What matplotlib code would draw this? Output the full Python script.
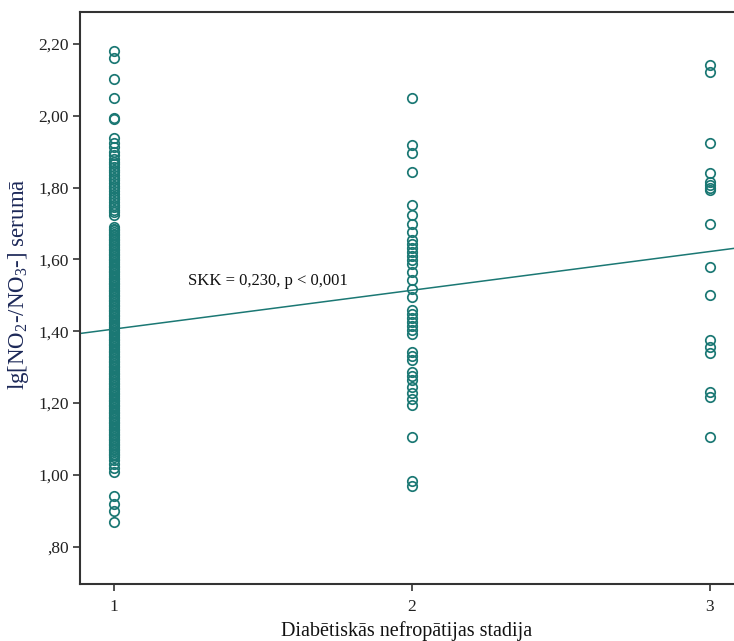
import matplotlib
matplotlib.use("Agg")
import matplotlib.pyplot as plt
from matplotlib.ticker import FixedLocator, FuncFormatter

plt.rcParams['font.family'] = ['Liberation Serif', 'DejaVu Serif']
plt.rcParams['mathtext.fontset'] = 'custom'
plt.rcParams['mathtext.rm'] = 'Liberation Serif'
plt.rcParams['mathtext.default'] = 'regular'

# ---- data ----
stage_1 = [
    2.179, 2.160, 2.102, 2.049, 1.995, 1.992,
    1.937, 1.923, 1.912, 1.900, 1.890, 1.880, 1.872, 1.865, 1.858, 1.850,
    1.843, 1.835, 1.828, 1.820, 1.812, 1.805, 1.798, 1.790, 1.782, 1.775,
    1.768, 1.760, 1.752, 1.745, 1.738, 1.731, 1.724,
    1.691, 1.686, 1.682, 1.677, 1.672, 1.668, 1.663, 1.658, 1.653, 1.649,
    1.644, 1.639, 1.634, 1.630, 1.625, 1.620, 1.616, 1.611, 1.606, 1.601,
    1.597, 1.592, 1.587, 1.583, 1.578, 1.573, 1.568, 1.564, 1.559, 1.554,
    1.549, 1.545, 1.540, 1.535, 1.531, 1.526, 1.521, 1.516, 1.512, 1.507,
    1.502, 1.498, 1.493, 1.488, 1.483, 1.479, 1.474, 1.469, 1.464, 1.460,
    1.455, 1.450, 1.446, 1.441, 1.436, 1.431, 1.427, 1.422, 1.417, 1.412,
    1.408, 1.403, 1.398, 1.394, 1.389, 1.384, 1.379, 1.375, 1.370, 1.365,
    1.361, 1.356, 1.351, 1.346, 1.342, 1.337, 1.332, 1.327, 1.323, 1.318,
    1.313, 1.309, 1.304, 1.299, 1.294, 1.290, 1.285, 1.280, 1.276, 1.271,
    1.266, 1.261, 1.257, 1.252, 1.247, 1.242, 1.238, 1.233, 1.228, 1.224,
    1.219, 1.214, 1.209, 1.205, 1.200, 1.195, 1.191, 1.186, 1.181, 1.176,
    1.172, 1.167, 1.162, 1.157, 1.153, 1.148, 1.143, 1.139, 1.134, 1.129,
    1.124, 1.120, 1.115, 1.110, 1.105, 1.101, 1.096, 1.091, 1.087, 1.082,
    1.077, 1.072, 1.068, 1.063, 1.058, 1.054, 1.050,
    1.040, 1.030, 1.020, 1.008,
    0.940, 0.918, 0.898, 0.868,
]
stage_2 = [
    2.050, 1.919, 1.897, 1.844, 1.752, 1.724, 1.699, 1.676, 1.654, 1.643,
    1.632, 1.621, 1.610, 1.599, 1.587, 1.565, 1.543, 1.518, 1.496, 1.459,
    1.448, 1.437, 1.426, 1.415, 1.404, 1.392, 1.342, 1.331, 1.320, 1.287,
    1.275, 1.264, 1.245, 1.228, 1.211, 1.195, 1.106, 0.983, 0.970,
]
stage_3 = [
    2.142, 2.123, 1.925, 1.842, 1.815, 1.808, 1.800, 1.792, 1.699, 1.580,
    1.501, 1.376, 1.357, 1.339, 1.232, 1.218, 1.106,
]

fit_intercept = 1.298
fit_slope = 0.108

x_ticks = [1, 2, 3]
y_ticks = [0.80, 1.00, 1.20, 1.40, 1.60, 1.80, 2.00, 2.20]

annotation = "SKK = 0,230, p < 0,001"
x_label = "Diabētiskās nefropātijas stadija"
y_label = r"lg[NO$_2$-/NO$_3$-] serumā"

# ---- plot ----
color = '#1b7874'
W, H = 734, 641
fig = plt.figure(figsize=(W / 100, H / 100), dpi=100)
ax = fig.add_axes([80 / W, 1 - 584 / H, 1 - 80 / W, (584 - 12) / H])

groups = [(1, stage_1), (2, stage_2), (3, stage_3)]
for xv, vals in groups:
    ax.plot([xv] * len(vals), vals, linestyle='none', marker='o', ms=6.8,
            mfc='none', mec=color, mew=1.25)

xlim = (0.886, 3.081)
ax.plot(list(xlim), [fit_intercept + fit_slope * xlim[0], fit_intercept + fit_slope * xlim[1]],
        color=color, lw=1.1)

ax.set_xlim(*xlim)
ax.set_ylim(0.696, 2.289)

ax.xaxis.set_major_locator(FixedLocator(x_ticks))
ax.yaxis.set_major_locator(FixedLocator(y_ticks))
ax.xaxis.set_major_formatter(FuncFormatter(lambda v, p: f"{int(round(v))}"))


def yfmt(v, p):
    s = f"{v:.2f}".replace('.', ',')
    if s.startswith('0,'):
        s = s[1:]
    return s


ax.yaxis.set_major_formatter(FuncFormatter(yfmt))

for side in ['left', 'bottom', 'top']:
    ax.spines[side].set_color('#333333')
    ax.spines[side].set_linewidth(1.5)
ax.spines['right'].set_visible(False)

ax.tick_params(axis='both', direction='out', length=5, width=1.2, color='#333333',
               labelsize=12.5, labelcolor='#222222', pad=3)
ax.tick_params(axis='x', pad=6)

ax.text(1.248, 1.540, annotation, fontsize=12, va='center', ha='left', color='#111111')

ax.set_xlabel(x_label, fontsize=14.5, color='#111111')
ax.xaxis.label.set_va('center')
ax.xaxis.set_label_coords(0.5, -(631 - 584) / 572)
ax.set_ylabel(y_label, fontsize=16.5, color='#1c2858')
ax.yaxis.label.set_va('center')
ax.yaxis.set_label_coords(-(80 - 19) / 654, (584 - 284) / 572)

fig.savefig('out.png', dpi=100)
